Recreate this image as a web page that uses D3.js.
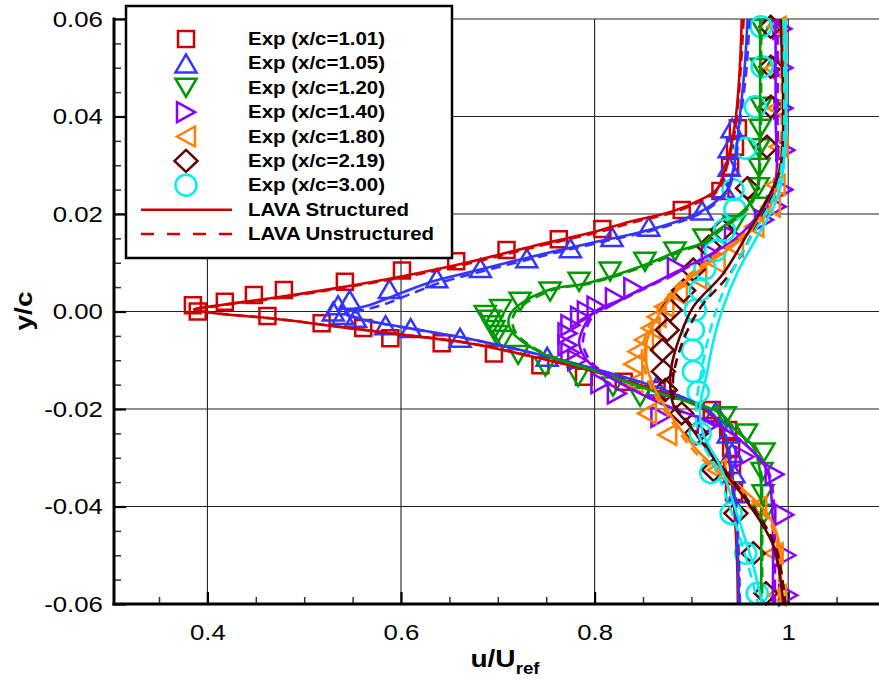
<!DOCTYPE html>
<html lang="en">
<head>
<meta charset="UTF-8">
<title>Wake velocity profiles</title>
<script src="https://d3js.org/d3.v7.min.js"></script>
<style>
    body { margin: 0; background: #fff; }
    text { font-family: "Liberation Sans", Arial, Helvetica, sans-serif; }
</style>
</head>
<body>
<div id="chart"></div>
<script>

// ---- data: [u/Uref, y/c] ----
var stations = ["1.01", "1.05", "1.20", "1.40", "1.80", "2.19", "3.00"];
var xTicks = [0.4, 0.6, 0.8, 1.0];
var xTickLabels = ["0.4", "0.6", "0.8", "1"];
var yTicks = [0.06, 0.04, 0.02, 0, -0.02, -0.04, -0.06];
var yTickLabels = ["0.06", "0.04", "0.02", "0.00", "-0.02", "-0.04", "-0.06"];

var exp101 = [[0.385,0.0013],[0.390,0.0],[0.418,0.0020],[0.448,0.0034],[0.479,0.0044],[0.542,0.0061],[0.601,0.0084],[0.657,0.0103],[0.709,0.0126],[0.763,0.0148],[0.808,0.0169],[0.890,0.0208],[0.930,0.0247],[0.940,0.0297],[0.945,0.0338],[0.948,0.0376],
    [0.462,-0.0009],[0.518,-0.0024],[0.561,-0.0034],[0.589,-0.0055],[0.642,-0.0065],[0.696,-0.0086],[0.744,-0.0110],[0.789,-0.0134],[0.830,-0.0144],[0.864,-0.0161],[0.921,-0.0202],[0.938,-0.0243],[0.941,-0.0280],[0.942,-0.0315],[0.944,-0.0370]];
var exp105 = [[0.530,0.0],[0.535,0.0013],[0.547,0.0024],[0.588,0.0046],[0.637,0.0068],[0.682,0.0089],[0.730,0.0109],[0.775,0.0130],[0.818,0.0153],[0.856,0.0174],[0.911,0.0207],[0.933,0.0253],[0.939,0.0297],[0.939,0.0335],[0.942,0.0376],
    [0.540,-0.0007],[0.553,-0.0013],[0.584,-0.0028],[0.610,-0.0034],[0.661,-0.0054],[0.751,-0.0093],[0.864,-0.0154],[0.925,-0.0206],[0.938,-0.0250],[0.942,-0.0290],[0.944,-0.0332],[0.948,-0.0373]];
var exp120 = [[0.703,0.0005],[0.723,0.0020],[0.754,0.0041],[0.784,0.0061],[0.816,0.0082],[0.852,0.0102],[0.883,0.0123],[0.913,0.0150],[0.944,0.0177],[0.968,0.0215],[0.969,0.0255],[0.970,0.0295],[0.970,0.0335],[0.971,0.0375],[0.972,0.0420],[0.972,0.0500],[0.973,0.0580],
    [0.687,-0.0007],[0.692,-0.0017],[0.694,-0.0028],[0.696,-0.0038],[0.699,-0.0048],[0.705,-0.0058],[0.721,-0.0089],[0.749,-0.0113],[0.783,-0.0134],[0.819,-0.0154],[0.847,-0.0175],[0.935,-0.0215],[0.957,-0.0250],[0.975,-0.0289],[0.973,-0.0329],[0.974,-0.0375],[0.975,-0.0415]];
var exp140 = [[0.792,0.0],[0.802,0.0010],[0.821,0.0027],[0.840,0.0048],[0.885,0.0089],[0.920,0.0119],[0.944,0.0153],[0.975,0.0188],[0.988,0.0215],[0.995,0.0250],[0.997,0.0331],[0.995,0.0417],[0.995,0.0500],[0.994,0.0580],
    [0.785,-0.0011],[0.775,-0.0028],[0.772,-0.0045],[0.772,-0.0069],[0.775,-0.0085],[0.782,-0.0100],[0.806,-0.0147],[0.823,-0.0168],[0.868,-0.0216],[0.916,-0.0236],[0.955,-0.0298],[0.986,-0.0334],[0.996,-0.0417],[0.998,-0.0500],[1.000,-0.0582]];
var exp180 = [[0.988,0.0584],[0.985,0.0499],[0.988,0.0417],[0.990,0.0338],[0.987,0.0260],[0.982,0.0215],[0.965,0.0174],[0.944,0.0133],[0.925,0.0100],[0.906,0.0068],[0.886,0.0035],[0.872,0.0010],[0.864,-0.0011],[0.858,-0.0034],[0.851,-0.0058],[0.844,-0.0082],[0.840,-0.0108],[0.840,-0.0147],
    [0.854,-0.0209],[0.875,-0.0253],[0.926,-0.0325],[0.968,-0.0400],[0.985,-0.0496],[0.988,-0.0582]];
var exp219 = [[0.982,0.0584],[0.982,0.0502],[0.982,0.0420],[0.978,0.0338],[0.958,0.0253],[0.932,0.0167],[0.918,0.0133],[0.902,0.0086],[0.892,0.0043],[0.878,0.0003],[0.875,-0.0038],[0.870,-0.0079],[0.871,-0.0123],[0.873,-0.0161],
    [0.890,-0.0209],[0.905,-0.0250],[0.923,-0.0325],[0.946,-0.0414],[0.964,-0.0496],[0.977,-0.0578]];
var exp300 = [[0.972,0.0584],[0.973,0.0502],[0.966,0.0420],[0.956,0.0335],[0.943,0.0250],[0.945,0.0210],[0.934,0.0167],[0.925,0.0125],[0.914,0.0088],[0.909,0.0044],[0.904,0.0003],[0.902,-0.0038],[0.901,-0.0079],[0.902,-0.0123],[0.907,-0.0165],
    [0.909,-0.0250],[0.920,-0.0330],[0.941,-0.0414],[0.956,-0.0496],[0.968,-0.0578]];

// LAVA structured (solid)
var lavaS101 = [[0.952,0.060],[0.950,0.050],[0.946,0.040],[0.942,0.035],[0.936,0.030],[0.926,0.025],[0.909,0.0229],[0.880,0.0205],[0.836,0.0184],[0.801,0.0164],[0.734,0.0133],[0.665,0.0099],[0.603,0.0073],[0.533,0.0048],[0.465,0.0027],[0.410,0.0012],[0.386,0.0004],[0.410,-0.0004],[0.465,-0.0014],[0.534,-0.0031],[0.603,-0.0048],[0.670,-0.0065],[0.730,-0.0090],[0.799,-0.0123],[0.868,-0.0165],[0.912,-0.0200],[0.926,-0.0225],[0.934,-0.0260],[0.940,-0.0320],[0.944,-0.0400],[0.947,-0.0500],[0.948,-0.0600]];
var lavaS105 = [[0.958,0.060],[0.955,0.050],[0.950,0.040],[0.944,0.030],[0.937,0.025],[0.923,0.0222],[0.905,0.0200],[0.856,0.0167],[0.802,0.0143],[0.734,0.0112],[0.665,0.0078],[0.630,0.0060],[0.603,0.0040],[0.570,0.0015],[0.548,0.0002],[0.542,-0.0004],[0.554,-0.0014],[0.602,-0.0032],[0.665,-0.0054],[0.730,-0.0082],[0.799,-0.0117],[0.868,-0.0158],[0.915,-0.0200],[0.930,-0.0230],[0.940,-0.0305],[0.945,-0.0387],[0.948,-0.0500],[0.949,-0.0600]];
var lavaS120 = [[0.971,0.060],[0.971,0.045],[0.970,0.030],[0.968,0.0256],[0.958,0.0215],[0.923,0.0160],[0.913,0.0142],[0.889,0.0126],[0.851,0.0095],[0.792,0.0058],[0.754,0.0045],[0.723,0.0015],[0.713,-0.0005],[0.711,-0.0024],[0.716,-0.0045],[0.728,-0.0065],[0.745,-0.0085],[0.770,-0.0103],[0.799,-0.0121],[0.868,-0.0168],[0.930,-0.0209],[0.945,-0.0243],[0.964,-0.0278],[0.971,-0.0330],[0.972,-0.0400],[0.972,-0.0600]];
var lavaS140 = [[0.987,0.060],[0.987,0.040],[0.987,0.027],[0.975,0.0215],[0.944,0.0147],[0.885,0.0082],[0.826,0.0024],[0.799,-0.0002],[0.789,-0.0031],[0.784,-0.0065],[0.792,-0.0100],[0.806,-0.0123],[0.868,-0.0188],[0.930,-0.0236],[0.958,-0.0277],[0.978,-0.0325],[0.983,-0.0387],[0.984,-0.0600]];
var lavaS180 = [[0.994,0.060],[0.994,0.0318],[0.988,0.0256],[0.978,0.0201],[0.951,0.0147],[0.923,0.0106],[0.892,0.0058],[0.872,0.0010],[0.858,-0.0038],[0.852,-0.0079],[0.854,-0.0113],[0.861,-0.0154],[0.875,-0.0202],[0.909,-0.0291],[0.950,-0.0359],[0.978,-0.0414],[0.990,-0.0469],[0.992,-0.0600]];
var lavaS219 = [[0.992,0.060],[0.992,0.0297],[0.978,0.0229],[0.958,0.0160],[0.933,0.0078],[0.902,0.0010],[0.888,-0.0052],[0.880,-0.0106],[0.878,-0.0140],[0.882,-0.0195],[0.896,-0.0229],[0.927,-0.0311],[0.961,-0.0400],[0.985,-0.0482],[0.995,-0.0600]];
var lavaS300 = [[0.997,0.060],[0.997,0.0338],[0.992,0.0256],[0.985,0.0215],[0.964,0.0140],[0.947,0.0078],[0.933,0.0010],[0.923,-0.0058],[0.916,-0.0127],[0.909,-0.0195],[0.912,-0.0250],[0.930,-0.0318],[0.947,-0.0414],[0.964,-0.0523],[0.973,-0.0600]];

// LAVA unstructured (dashed)
var lavaU101 = [[0.954,0.060],[0.951,0.050],[0.947,0.040],[0.943,0.035],[0.937,0.030],[0.928,0.025],[0.912,0.0229],[0.884,0.0205],[0.842,0.0184],[0.806,0.0164],[0.740,0.0133],[0.671,0.0099],[0.609,0.0073],[0.538,0.0048],[0.470,0.0027],[0.412,0.0012],[0.388,0.0004],[0.412,-0.0004],[0.466,-0.0014],[0.535,-0.0031],[0.604,-0.0048],[0.671,-0.0065],[0.732,-0.0090],[0.801,-0.0123],[0.870,-0.0165],[0.913,-0.0200],[0.927,-0.0225],[0.935,-0.0260],[0.941,-0.0320],[0.945,-0.0400],[0.948,-0.0500],[0.949,-0.0600]];
var lavaU105 = [[0.960,0.060],[0.957,0.050],[0.951,0.040],[0.945,0.030],[0.938,0.025],[0.925,0.0222],[0.908,0.0200],[0.861,0.0167],[0.808,0.0143],[0.742,0.0112],[0.675,0.0078],[0.642,0.0060],[0.615,0.0040],[0.583,0.0015],[0.556,0.0],[0.548,-0.0006],[0.558,-0.0015],[0.604,-0.0033],[0.667,-0.0055],[0.731,-0.0083],[0.800,-0.0118],[0.869,-0.0159],[0.916,-0.0201],[0.931,-0.0231],[0.941,-0.0305],[0.946,-0.0387],[0.949,-0.0500],[0.950,-0.0600]];
var lavaU120 = [[0.972,0.060],[0.972,0.045],[0.971,0.030],[0.969,0.0256],[0.960,0.0215],[0.926,0.0160],[0.916,0.0142],[0.893,0.0126],[0.855,0.0095],[0.796,0.0058],[0.758,0.0045],[0.727,0.0015],[0.717,-0.0005],[0.715,-0.0024],[0.719,-0.0045],[0.730,-0.0065],[0.747,-0.0085],[0.771,-0.0103],[0.800,-0.0121],[0.869,-0.0169],[0.931,-0.0210],[0.946,-0.0244],[0.965,-0.0279],[0.972,-0.0330],[0.973,-0.0400],[0.973,-0.0600]];
var lavaU140 = [[0.989,0.060],[0.989,0.040],[0.988,0.027],[0.977,0.0215],[0.946,0.0147],[0.887,0.0082],[0.828,0.0024],[0.802,-0.0002],[0.792,-0.0031],[0.788,-0.0065],[0.795,-0.0100],[0.808,-0.0123],[0.869,-0.0189],[0.931,-0.0237],[0.959,-0.0278],[0.979,-0.0326],[0.985,-0.0387],[0.986,-0.0600]];
var lavaU180 = [[0.992,0.060],[0.992,0.0318],[0.986,0.0256],[0.975,0.0201],[0.947,0.0147],[0.918,0.0106],[0.888,0.0058],[0.868,0.0010],[0.855,-0.0038],[0.849,-0.0079],[0.851,-0.0113],[0.858,-0.0154],[0.872,-0.0202],[0.905,-0.0291],[0.946,-0.0359],[0.975,-0.0414],[0.988,-0.0469],[0.990,-0.0600]];
var lavaU219 = [[0.993,0.060],[0.993,0.0297],[0.982,0.0229],[0.963,0.0160],[0.940,0.0078],[0.910,0.0010],[0.893,-0.0052],[0.884,-0.0106],[0.881,-0.0140],[0.884,-0.0195],[0.898,-0.0229],[0.929,-0.0311],[0.963,-0.0400],[0.987,-0.0482],[0.997,-0.0600]];
var lavaU300 = [[0.995,0.060],[0.995,0.0338],[0.989,0.0256],[0.980,0.0215],[0.958,0.0140],[0.941,0.0078],[0.927,0.0010],[0.917,-0.0058],[0.910,-0.0127],[0.905,-0.0195],[0.907,-0.0250],[0.924,-0.0318],[0.942,-0.0414],[0.959,-0.0523],[0.969,-0.0600]];

var expSets = [exp101, exp105, exp120, exp140, exp180, exp219, exp300];
var structSets = [lavaS101, lavaS105, lavaS120, lavaS140, lavaS180, lavaS219, lavaS300];
var unstructSets = [lavaU101, lavaU105, lavaU120, lavaU140, lavaU180, lavaU219, lavaU300];

// ---- style ----
var colors = ["#d00000", "#3535ff", "#009a00", "#8a00ff", "#ff8000", "#640000", "#00f0f0"];
var shapes = ["square", "triUp", "triDown", "triRight", "triLeft", "diamond", "circle"];
var stretch = "scale(1.17,1)";

var svg = d3.select("#chart")
    .append("svg")
    .attr("width", 879)
    .attr("height", 679);

var x = d3.scaleLinear().domain([0.3035, 1.1]).range([114, 885]);
var y = d3.scaleLinear().domain([-0.06, 0.06]).range([604, 19]);

// grid
svg.append("g").selectAll("line")
    .data(xTicks)
    .join("line")
    .attr("x1", function(d) { return x(d); })
    .attr("x2", function(d) { return x(d); })
    .attr("y1", y(0.06)).attr("y2", y(-0.06))
    .attr("stroke", "#222").attr("stroke-width", 1.1);
svg.append("g").selectAll("line")
    .data(yTicks)
    .join("line")
    .attr("x1", 114).attr("x2", 885)
    .attr("y1", function(d) { return y(d); })
    .attr("y2", function(d) { return y(d); })
    .attr("stroke", "#222").attr("stroke-width", 1.1);

// minor ticks
var xMinor = x.ticks(16).filter(function(d) { return xTicks.indexOf(+d.toFixed(2)) < 0; });
var yMinor = y.ticks(24).filter(function(d) { return yTicks.indexOf(+d.toFixed(3)) < 0; });

var gxm = svg.append("g").attr("transform", "translate(0,604)")
    .call(d3.axisBottom(x).tickValues(xMinor).tickSize(-7).tickFormat(""));
gxm.select(".domain").remove();
gxm.selectAll(".tick line").attr("stroke", "#333").attr("stroke-width", 1.5);

var gym = svg.append("g").attr("transform", "translate(114,0)")
    .call(d3.axisLeft(y).tickValues(yMinor).tickSize(-7).tickFormat(""));
gym.select(".domain").remove();
gym.selectAll(".tick line").attr("stroke", "#333").attr("stroke-width", 1.5);

// major ticks + labels
var gx = svg.append("g").attr("transform", "translate(0,604)")
    .call(d3.axisBottom(x).tickValues(xTicks).tickSize(-12).tickPadding(20)
        .tickFormat(function(d, i) { return xTickLabels[i]; }));
gx.select(".domain").remove();
gx.selectAll(".tick line").attr("stroke", "#000").attr("stroke-width", 2.2);
gx.selectAll(".tick text").attr("font-size", 22).attr("fill", "#000").attr("transform", stretch);

var gy = svg.append("g").attr("transform", "translate(114,0)")
    .call(d3.axisLeft(y).tickValues(yTicks).tickSize(-12).tickPadding(9.5)
        .tickFormat(function(d, i) { return yTickLabels[i]; }));
gy.select(".domain").remove();
gy.selectAll(".tick line").attr("stroke", "#000").attr("stroke-width", 2.2);
gy.selectAll(".tick text").attr("font-size", 22).attr("fill", "#000").attr("transform", stretch);

// markers
function shapePath(s) {
    if (s == "square") return "M-8,-8H8V8H-8Z";
    if (s == "triUp") return "M0,-9L10.5,9L-10.5,9Z";
    if (s == "triDown") return "M0,9L10.5,-9L-10.5,-9Z";
    if (s == "triRight") return "M9,0L-9,-10L-9,10Z";
    if (s == "triLeft") return "M-9,0L9,-10L9,10Z";
    if (s == "diamond") return "M0,-11L11.5,0L0,11L-11.5,0Z";
    var p = d3.path();
    p.arc(0, 0, 10.5, 0, 2 * Math.PI);
    return p.toString();
}

expSets.forEach(function(set, i) {
    svg.append("g").selectAll("path")
        .data(set)
        .join("path")
        .attr("d", shapePath(shapes[i]))
        .attr("transform", function(d) { return "translate(" + x(d[0]) + "," + y(d[1]) + ")"; })
        .attr("fill", "none")
        .attr("stroke", colors[i])
        .attr("stroke-width", 2.5);
});

// CFD lines
svg.append("clipPath").attr("id", "plotclip")
    .append("rect").attr("x", 114).attr("y", 19).attr("width", 771).attr("height", 585);

var line = d3.line()
    .x(function(d) { return x(d[0]); })
    .y(function(d) { return y(d[1]); })
    .curve(d3.curveCatmullRom.alpha(0.5));

var lines = svg.append("g").attr("clip-path", "url(#plotclip)");
structSets.forEach(function(set, i) {
    lines.append("path").datum(set)
        .attr("d", line)
        .attr("fill", "none")
        .attr("stroke", colors[i])
        .attr("stroke-width", 2.6);
    lines.append("path").datum(unstructSets[i])
        .attr("d", line)
        .attr("fill", "none")
        .attr("stroke", colors[i])
        .attr("stroke-width", 2.6)
        .attr("stroke-dasharray", "10,6");
});

// axis lines
svg.append("line").attr("x1", 114).attr("x2", 114).attr("y1", 17.5).attr("y2", 605.5)
    .attr("stroke", "#000").attr("stroke-width", 3);
svg.append("line").attr("x1", 112.5).attr("x2", 885).attr("y1", 604).attr("y2", 604)
    .attr("stroke", "#000").attr("stroke-width", 3);

// axis titles
svg.append("text")
    .attr("transform", "translate(32,311) rotate(-90) scale(1.17,1)")
    .attr("text-anchor", "middle")
    .attr("font-size", 24).attr("font-weight", "bold")
    .text("y/c");

var xt = svg.append("text")
    .attr("transform", "translate(505,667) " + stretch)
    .attr("text-anchor", "middle")
    .attr("font-weight", "bold");
xt.append("tspan").attr("font-size", 24).text("u/U");
xt.append("tspan").attr("font-size", 16).attr("dy", 7).text("ref");

// legend
var legend = svg.append("g");
legend.append("rect")
    .attr("x", 126).attr("y", 6).attr("width", 326).attr("height", 252)
    .attr("fill", "#fff").attr("stroke", "#000").attr("stroke-width", 2.5);

var legendY = d3.scaleLinear().domain([0, 8]).range([39, 234]);

stations.forEach(function(s, i) {
    legend.append("path")
        .attr("d", shapePath(shapes[i]))
        .attr("transform", "translate(186," + legendY(i) + ")")
        .attr("fill", "none").attr("stroke", colors[i]).attr("stroke-width", 2.5);
    legend.append("text")
        .attr("transform", "translate(248," + (legendY(i) + 6) + ") " + stretch)
        .attr("font-size", 17.5).attr("font-weight", "bold")
        .text("Exp (x/c=" + s + ")");
});

["LAVA Structured", "LAVA Unstructured"].forEach(function(name, j) {
    var ly = legendY(7 + j);
    legend.append("line")
        .attr("x1", 141).attr("x2", 232).attr("y1", ly).attr("y2", ly)
        .attr("stroke", colors[0]).attr("stroke-width", 2.5)
        .attr("stroke-dasharray", j ? "13,13" : null);
    legend.append("text")
        .attr("transform", "translate(248," + (ly + 6) + ") " + stretch)
        .attr("font-size", 17.5).attr("font-weight", "bold")
        .text(name);
});

</script>
</body>
</html>
